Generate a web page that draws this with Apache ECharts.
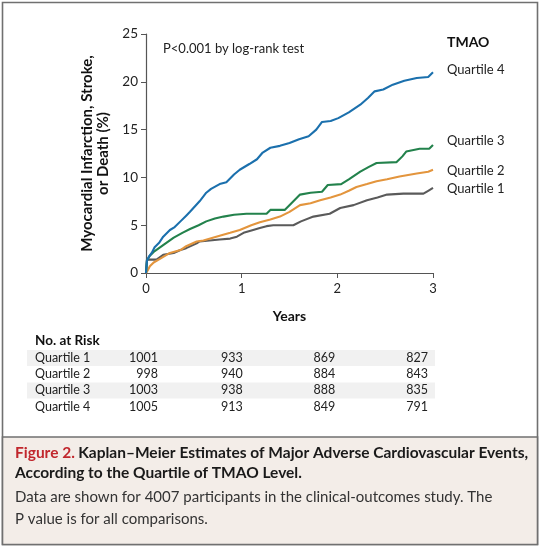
<!DOCTYPE html>
<html>
<head>
<meta charset="utf-8">
<script src="https://cdn.jsdelivr.net/npm/echarts@6/dist/echarts.min.js"></script>
<style>
  html, body { margin: 0; padding: 0; background: #fff; }
  #main { width: 540px; height: 548px; }
</style>
</head>
<body>
<div id="main"></div>
<script>
// Kaplan-Meier curves: [years, percent]
var q1Curve = [[0,0],[0.01,1.4],[0.11,1.4],[0.18,1.9],[0.29,2.1],[0.36,2.4],[0.42,2.6],[0.53,3.1],[0.56,3.3],[0.77,3.5],[0.88,3.6],[0.95,3.8],[1.02,4.2],[1.12,4.5],[1.19,4.7],[1.26,4.9],[1.33,5.0],[1.54,5.0],[1.62,5.4],[1.75,5.9],[1.92,6.2],[2.03,6.8],[2.17,7.1],[2.31,7.6],[2.42,7.9],[2.52,8.2],[2.69,8.3],[2.9,8.3],[2.95,8.6],[3.0,8.9]];
var q2Curve = [[0,0],[0.02,0.3],[0.04,0.7],[0.08,1.1],[0.15,1.5],[0.25,2.1],[0.36,2.4],[0.42,2.8],[0.53,3.3],[0.6,3.4],[0.77,3.9],[0.88,4.2],[0.98,4.5],[1.1,5.0],[1.19,5.3],[1.3,5.6],[1.4,5.9],[1.5,6.4],[1.61,7.1],[1.72,7.3],[1.82,7.6],[1.93,7.9],[2.03,8.2],[2.12,8.6],[2.2,9.0],[2.31,9.3],[2.41,9.6],[2.52,9.8],[2.65,10.1],[2.83,10.4],[2.95,10.6],[3.0,10.8]];
var q3Curve = [[0,0],[0.01,1.3],[0.04,1.8],[0.08,2.2],[0.15,2.7],[0.22,3.2],[0.29,3.7],[0.38,4.2],[0.46,4.6],[0.55,5.0],[0.63,5.4],[0.72,5.7],[0.81,5.9],[0.92,6.1],[1.05,6.2],[1.26,6.2],[1.3,6.6],[1.45,6.6],[1.52,7.3],[1.61,8.2],[1.72,8.4],[1.84,8.5],[1.9,9.2],[2.04,9.3],[2.12,9.8],[2.24,10.6],[2.33,11.1],[2.41,11.5],[2.62,11.6],[2.68,12.2],[2.72,12.7],[2.86,13.0],[2.96,13.0],[3.0,13.4]];
var q4Curve = [[0,0],[0.01,1.3],[0.03,1.7],[0.06,2.1],[0.09,2.7],[0.14,3.2],[0.18,3.8],[0.25,4.5],[0.3,4.8],[0.36,5.4],[0.42,6.0],[0.46,6.4],[0.56,7.5],[0.63,8.4],[0.68,8.8],[0.77,9.3],[0.84,9.5],[0.92,10.3],[0.98,10.8],[1.08,11.4],[1.16,11.9],[1.22,12.6],[1.3,13.1],[1.4,13.3],[1.5,13.6],[1.6,14.0],[1.7,14.3],[1.78,15.0],[1.84,15.8],[1.93,15.9],[2.01,16.2],[2.12,16.8],[2.24,17.6],[2.32,18.3],[2.39,19.0],[2.48,19.2],[2.58,19.7],[2.7,20.1],[2.83,20.4],[2.95,20.5],[3.0,21.0]];

var quartileNames = ['Quartile 1', 'Quartile 2', 'Quartile 3', 'Quartile 4'];
var lineColors = ['#5a5a5a', '#e3953d', '#23824c', '#1b70ad'];
var riskYears = [0, 1, 2, 3];
var atRisk = [
  [1001, 933, 869, 827],
  [998, 940, 884, 843],
  [1003, 938, 888, 835],
  [1005, 913, 849, 791]
];

var FONT = 'Lato';
var chart = echarts.init(document.getElementById('main'));

var curves = [q1Curve, q2Curve, q3Curve, q4Curve];
var labelNudge = [1, 1, -4, -2];
var series = curves.map(function (c, i) {
  return {
    name: quartileNames[i],
    type: 'line',
    data: c,
    symbol: 'none',
    lineStyle: { color: lineColors[i], width: 2.1 },
    z: 2 + i,
    endLabel: {
      show: true,
      formatter: quartileNames[i],
      color: '#222',
      fontFamily: FONT,
      fontSize: 13,
      distance: 14,
      offset: [0, labelNudge[i]]
    }
  };
});

var axisColor = '#555';
chart.setOption({
  animation: false,
  grid: { left: 146, top: 34, width: 287, height: 239 },
  xAxis: {
    type: 'value', min: 0, max: 3, interval: 1,
    axisLine: { lineStyle: { color: axisColor, width: 1.2 } },
    axisTick: { length: 5, lineStyle: { color: axisColor } },
    axisLabel: { color: '#222', fontFamily: FONT, fontSize: 13, margin: 9 },
    splitLine: { show: false },
    name: 'Years', nameLocation: 'middle', nameGap: 36,
    nameTextStyle: { fontFamily: FONT, fontWeight: 'bold', fontSize: 14, color: '#111' }
  },
  yAxis: {
    type: 'value', min: 0, max: 25, interval: 5,
    axisLine: { show: true, lineStyle: { color: axisColor, width: 1.2 } },
    axisTick: { show: true, length: 5, lineStyle: { color: axisColor } },
    axisLabel: { color: '#222', fontFamily: FONT, fontSize: 13.5, margin: 8 },
    splitLine: { show: false },
    name: 'Myocardial Infarction, Stroke,\nor Death (%)',
    nameLocation: 'middle', nameRotate: 90, nameGap: 31,
    nameTextStyle: { fontFamily: FONT, fontWeight: 'bold', fontSize: 15, color: '#111', lineHeight: 16 }
  },
  series: series
});

// frame, labels and table
var g = [];
g.push({ type: 'rect', shape: { x: 2.5, y: 2.5, width: 535, height: 542 }, style: { fill: 'none', stroke: '#707070', lineWidth: 1.6 }, z: 0 });
g.push({ type: 'rect', shape: { x: 2.5, y: 437, width: 535, height: 107.5 }, style: { fill: '#f3ede8', stroke: '#707070', lineWidth: 1.6 }, z: 0 });

var pTest = chart.convertToPixel({ gridIndex: 0 }, [0, 23.5]);
g.push({ type: 'text', x: 163, y: pTest[1], style: { text: 'P<0.001 by log-rank test', fontFamily: FONT, fontSize: 13, fill: '#222', verticalAlign: 'middle' } });
g.push({ type: 'text', x: 447, y: 42, style: { text: 'TMAO', fontFamily: FONT, fontSize: 14, fontWeight: 'bold', fill: '#111', verticalAlign: 'middle' } });

var rowY0 = 358, rowH = 16.2;
g.push({ type: 'text', x: 35, y: 341, style: { text: 'No. at Risk', fontFamily: FONT, fontSize: 13.5, fontWeight: 'bold', fill: '#111', verticalAlign: 'middle' } });
var colShift = [12, 1, -2, -5];
atRisk.forEach(function (row, r) {
  var y = rowY0 + r * rowH;
  if (r % 2 === 0) {
    g.push({ type: 'rect', shape: { x: 27, y: y - 8, width: 408, height: 16 }, style: { fill: '#f1f1f1' }, z: 0 });
  }
  g.push({ type: 'text', x: 35, y: y, style: { text: quartileNames[r], fontFamily: FONT, fontSize: 12.5, fill: '#222', verticalAlign: 'middle' }, z: 1 });
  row.forEach(function (v, c) {
    var px = chart.convertToPixel({ gridIndex: 0 }, [riskYears[c], 0])[0];
    g.push({ type: 'text', x: px + colShift[c], y: y, style: { text: String(v), fontFamily: FONT, fontSize: 12.5, fill: '#222', align: 'right', verticalAlign: 'middle' }, z: 1 });
  });
});

// caption
g.push({ type: 'text', x: 15, y: 453, z: 2, style: {
  text: '{r|Figure 2.} {b|Kaplan\u2013Meier Estimates of Major Adverse Cardiovascular Events,}',
  verticalAlign: 'middle',
  rich: {
    r: { fontFamily: FONT, fontSize: 15.5, fontWeight: 'bold', fill: '#c1272d', color: '#c1272d' },
    b: { fontFamily: FONT, fontSize: 15.5, fontWeight: 'bold', fill: '#1a1a1a', color: '#1a1a1a' }
  }
} });
g.push({ type: 'text', x: 15, y: 473, z: 2, style: { text: 'According to the Quartile of TMAO Level.', fontFamily: FONT, fontSize: 15.5, fontWeight: 'bold', fill: '#1a1a1a', verticalAlign: 'middle' } });
g.push({ type: 'text', x: 15, y: 497, z: 2, style: { text: 'Data are shown for 4007 participants in the clinical-outcomes study. The', fontFamily: FONT, fontSize: 15, fill: '#333', verticalAlign: 'middle' } });
g.push({ type: 'text', x: 15, y: 519, z: 2, style: { text: 'P value is for all comparisons.', fontFamily: FONT, fontSize: 15, fill: '#333', verticalAlign: 'middle' } });

chart.setOption({ graphic: g });
</script>
</body>
</html>
